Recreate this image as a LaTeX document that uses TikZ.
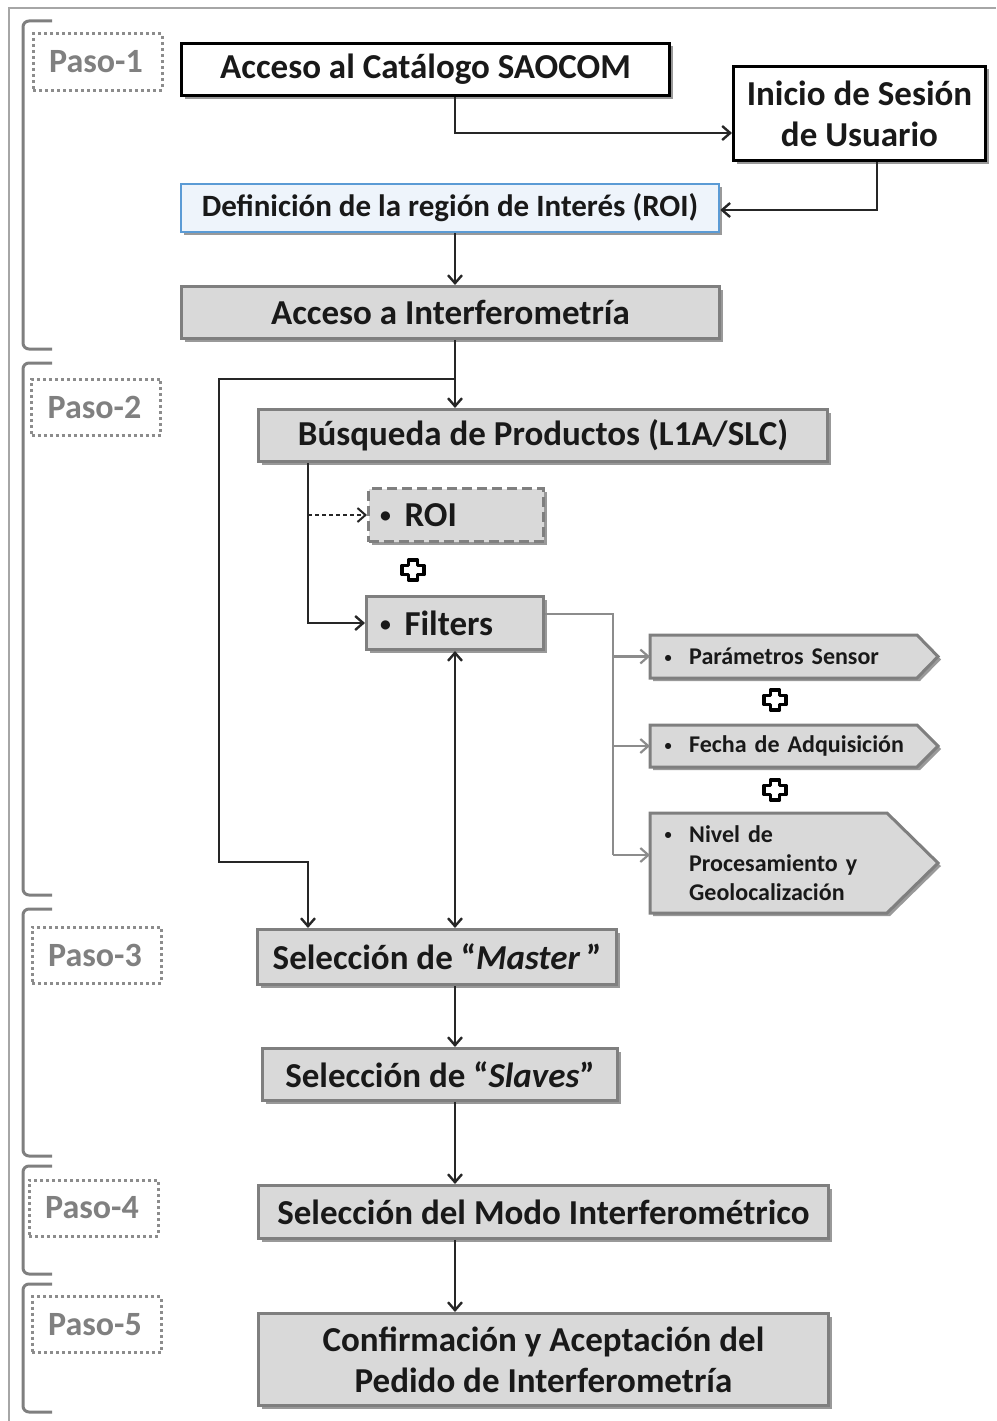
\documentclass[tikz,border=0pt]{standalone}
\usepackage{fontspec}
\setmainfont{Carlito}
\usetikzlibrary{arrows.meta,shadows,calc}
\definecolor{boxgray}{HTML}{D9D9D9}
\definecolor{edgegray}{HTML}{7F7F7F}
\definecolor{pasogray}{HTML}{808080}
\definecolor{dotgray}{HTML}{8C8C8C}
\definecolor{roiblue}{HTML}{5B9BD5}
\definecolor{roifill}{HTML}{EEF4FB}
\definecolor{linedark}{HTML}{262626}
\definecolor{linegray}{HTML}{8C8C8C}
\definecolor{framegray}{HTML}{A6A6A6}
\newcommand\smallbullet{\raisebox{3.5pt}{\scalebox{0.62}{•}}}
\newcommand\tinybullet{\raisebox{2.5pt}{\scalebox{0.6}{•}}}
\tikzset{
 shd/.style={drop shadow={shadow xshift=3pt,shadow yshift=-3pt,opacity=.4,fill=black}},
 mainbox/.style={rectangle, inner sep=0pt, line width=3pt, align=center, text=black!90,
   font=\bfseries\fontsize{35}{41}\selectfont, shd},
 whitebox/.style={mainbox, draw=black, fill=white},
 bluebox/.style={mainbox, draw=roiblue, fill=roifill, line width=2.5pt, font=\bfseries\fontsize{31}{36}\selectfont},
 graybox/.style={mainbox, draw=edgegray, fill=boxgray},
 pasobox/.style={rectangle, draw=dotgray, line width=3pt, dash pattern=on 3pt off 3pt,
   text=pasogray, font=\bfseries\fontsize{34}{40}\selectfont, minimum width=129pt, minimum height=56pt, inner sep=0pt},
 brack/.style={draw=edgegray, line width=3pt, rounded corners=6pt},
 conn/.style={draw=linedark, line width=2.4pt, ->},
 gconn/.style={draw=linegray, line width=2.2pt, ->},
 pent/.style={fill=boxgray, draw=edgegray, line width=3pt, shd},
 penttext/.style={inner sep=0pt, align=left, font=\bfseries\fontsize{24}{29}\selectfont, text=black!90},
 plussign/.pic={\path[fill=white, draw=black, line width=3.5pt, line join=round, drop shadow={shadow xshift=1.5pt,shadow yshift=-1.5pt,opacity=.35}]
   (-4.5,-10) -- (4.5,-10) -- (4.5,-4.5) -- (11,-4.5) -- (11,4.5) -- (4.5,4.5) -- (4.5,10) -- (-4.5,10) -- (-4.5,4.5) -- (-11,4.5) -- (-11,-4.5) -- (-4.5,-4.5) -- cycle;}
}
\newcommand\stepbracket[2]{\draw[brack] (52,#1) -- (23,#1) -- (23,#2) -- (52,#2);}
\begin{document}
\begin{tikzpicture}[x=1pt,y=-1pt,>={Straight Barb[length=8pt,width=14pt]}]
\useasboundingbox (0,0) rectangle (996,1421);
\draw[draw=framegray, line width=1.5pt] (996,8) -- (9,8) -- (9,1421);
% brackets
\stepbracket{21}{349}
\stepbracket{363}{895}
\stepbracket{909}{1156}
\stepbracket{1166}{1274}
\stepbracket{1284}{1412}
% paso labels
\node[pasobox] (paso1) at (97.5,62) {Paso-1\hspace*{3pt}};
\node[pasobox] (paso2) at (96,407) {Paso-2\hspace*{3pt}};
\node[pasobox] (paso3) at (96.5,955) {Paso-3\hspace*{3pt}};
\node[pasobox] (paso4) at (93.5,1208) {Paso-4\hspace*{3pt}};
\node[pasobox] (paso5) at (96.5,1324.5) {Paso-5\hspace*{3pt}};
% main boxes
\node[whitebox, minimum width=488pt, minimum height=52pt] (cat) at (425.5,69.5) {Acceso al Catálogo SAOCOM};
\node[whitebox, minimum width=252pt, minimum height=94pt] (ini) at (859.5,113.5) {Inicio de Sesión\\de Usuario};
\node[bluebox, minimum width=538pt, minimum height=48pt] (roi0) at (450,208) {Definición de la región de Interés (ROI)};
\node[graybox, minimum width=538pt, minimum height=52pt] (aint) at (450.5,312.5) {Acceso a Interferometría};
\node[graybox, minimum width=569pt, minimum height=52pt] (bus) at (543,435.5) {Búsqueda de Productos (L1A/SLC)};
\node[graybox, dash pattern=on 10pt off 5pt, minimum width=175pt, minimum height=53pt] (roibox) at (456,515)
  {\makebox[175pt][l]{\hspace*{17pt}\makebox[0pt]{\smallbullet}\hspace*{19pt}ROI}};
\node[graybox, minimum width=177pt, minimum height=53pt] (filt) at (455,623)
  {\makebox[177pt][l]{\hspace*{19pt}\makebox[0pt]{\smallbullet}\hspace*{19pt}Filters}};
\node[graybox, minimum width=359pt, minimum height=55pt] (master) at (437,957) {Selección de “\textit{Master}\,”};
\node[graybox, minimum width=355pt, minimum height=52pt] (slaves) at (440,1074.5) {Selección de “\textit{Slaves}”};
\node[graybox, minimum width=570pt, minimum height=53pt] (modo) at (543.5,1212) {Selección del Modo Interferométrico};
\node[graybox, minimum width=570pt, minimum height=92pt] (conf) at (543.5,1359.5) {Confirmación y Aceptación del\\Pedido de Interferometría};
% pentagons
\path[pent] (650,635) -- (917,635) -- (938,656.5) -- (917,678) -- (650,678) -- cycle;
\path[pent] (650,725) -- (917,725) -- (938,746) -- (917,767) -- (650,767) -- cycle;
\path[pent] (650,813) -- (887,813) -- (938,863) -- (887,913) -- (650,913) -- cycle;
\node[penttext, anchor=west, text width=267pt, minimum height=43pt] (p1) at (650,656.5)
  {\hspace*{18pt}\makebox[0pt]{\tinybullet}\hspace*{21pt}Parámetros Sensor};
\node[penttext, anchor=west, text width=267pt, minimum height=42pt] (p2) at (650,746)
  {\hspace*{18pt}\makebox[0pt]{\tinybullet}\hspace*{21pt}Fecha de Adquisición};
\node[penttext, anchor=west, text width=237pt, minimum height=100pt] (p3) at (650,863)
  {\hspace*{18pt}\makebox[0pt]{\tinybullet}\hspace*{21pt}Nivel de\\\hspace*{39pt}Procesamiento y\\\hspace*{39pt}Geolocalización};
% plus signs
\pic at (413,570) {plussign};
\pic at (775,700) {plussign};
\pic at (775,790) {plussign};
% helper coordinates
\coordinate (sx) at (455,0);
\coordinate (ix) at (877,0);
\coordinate (lx) at (219,0);
\coordinate (mx) at (308,0);
\coordinate (gx) at (613,0);
\coordinate (ly) at (0,862);
\coordinate (by) at (0,379);
\coordinate (cy) at (0,133);
\coordinate (ry) at (0,210);
\coordinate (p3in) at ($(p3.west)+(0,-8)$);
\coordinate (fout) at ($(filt.east)+(0,-9)$);
% connectors
\draw[conn] (cat.south -| sx) |- (ini.west |- cy);
\draw[conn] (ini.south -| ix) |- (roi0.east |- ry);
\draw[conn] (roi0.south -| sx) -- (aint.north -| sx);
\draw[conn] (aint.south -| sx) -- (bus.north -| sx);
\draw[conn] (sx |- by) -| (lx |- ly) -| (master.north -| mx);
\draw[conn] (bus.south -| mx) |- (filt.west);
\draw[conn, line width=2pt, dash pattern=on 4pt off 3pt] (roibox.west -| mx) -- (roibox.west);
\draw[conn, <->] (filt.south -| sx) -- (master.north -| sx);
\draw[draw=linegray, line width=2.2pt] (fout) -| (gx |- p3in);
\draw[gconn] (gx |- p1.west) -- (p1.west);
\draw[gconn] (gx |- p2.west) -- (p2.west);
\draw[gconn] (gx |- p3in) -- (p3in);
\draw[conn] (master.south -| sx) -- (slaves.north -| sx);
\draw[conn] (slaves.south -| sx) -- (modo.north -| sx);
\draw[conn] (modo.south -| sx) -- (conf.north -| sx);
\end{tikzpicture}
\end{document}
